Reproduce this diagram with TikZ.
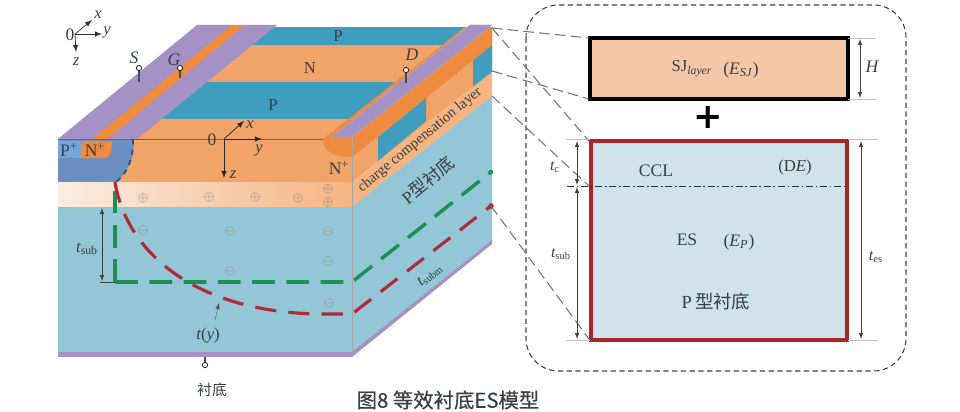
\documentclass[tikz,border=0pt]{standalone}
\usepackage{fontspec}
\setmainfont{Liberation Serif}
\newfontfamily\cjk{Noto Sans CJK SC}
\newfontfamily\cjkbold[FakeBold=0.5]{Noto Sans CJK SC}
\newfontfamily\plusfont{DejaVu Sans}
\usetikzlibrary{positioning}
\definecolor{tealP}{HTML}{3F9DBE}
\definecolor{orangeN}{HTML}{F2A468}
\definecolor{orangeD}{HTML}{EE8B3E}
\definecolor{layerO}{HTML}{F5B482}
\definecolor{layerL}{HTML}{FBEDE0}
\definecolor{subB}{HTML}{93C6D6}
\definecolor{metalP}{HTML}{A491C6}
\definecolor{wellB}{HTML}{6C8FC2}
\definecolor{wellD}{HTML}{2F4C7F}
\definecolor{plusB}{HTML}{74A6DC}
\definecolor{curveR}{HTML}{B02A3A}
\definecolor{curveG}{HTML}{1E8F55}
\definecolor{boxO}{HTML}{F5C7A6}
\definecolor{boxB}{HTML}{CFE3EB}
\definecolor{boxR}{HTML}{A8262C}
\definecolor{inkD}{HTML}{3A3F45}
\tikzset{
  lbl/.style={font=\fontsize{8.5}{10}\selectfont,text=inkD,inner sep=0pt},
  cjklbl/.style={font=\fontsize{8.5}{10}\selectfont\cjk,text=inkD,inner sep=0pt},
  dimline/.style={black!75,very thin,latex-latex,>=latex},
  extline/.style={black!25,very thin},
  lead/.style={black!55,semithick,dash pattern=on 6pt off 3pt},
  pin/.style={circle,draw=black!85,fill=white,line width=0.5pt,inner sep=0pt,minimum size=3pt},
}
\begin{document}
\begin{tikzpicture}[x=0.02cm,y=-0.02cm]
\useasboundingbox (0,0) rectangle (960,412);
\begin{scope}
\clip (58,139) -- (198,27) -- (492,27) -- (352,139) -- cycle;
\draw[fill=tealP,draw=none] (58,27) rectangle (492,45);
\draw[fill=orangeN,draw=none] (58,45) rectangle (492,82);
\draw[fill=tealP,draw=none] (58,82) rectangle (492,119);
\draw[fill=orangeN,draw=none] (58,119) rectangle (492,139);
\end{scope}
\draw[fill=metalP,draw=none] (197,25) -- (232,25) -- (92,139) -- (58,139) -- cycle;
\draw[fill=orangeD,draw=none] (232,25) -- (245,25) -- (108,139) -- (92,139) -- cycle;
\draw[fill=metalP,draw=none] (245,25) -- (277,25) -- (137,139) -- (108,139) -- cycle;
\draw[fill=orangeN,draw=none] (58,139) rectangle (352,182);
\draw[fill=wellB,draw=none] (58,139) -- (134,139) .. controls (134,160) and (128,172) .. (116,182) -- (58,182) -- cycle;
\draw[fill=plusB,draw=none] (58,141) rectangle (82,158);
\draw[fill=orangeD,draw=none] (83,141) -- (112,141) -- (111,153) .. controls (110,156) and (108,158) .. (104,158) -- (80,158) -- cycle;
\draw[black!60,very thin] (58,139) -- (352,139);
\draw[wellD,line width=1pt,dashed] (133,139) .. controls (133,160) and (128,172) .. (116,182);
\shade[left color=layerL,right color=layerO] (58,182) rectangle (352,207);
\draw[fill=subB,draw=none] (58,207) rectangle (352,352);
\draw[fill=metalP,draw=none] (58,352) rectangle (352,357);
% side face
\draw[fill=orangeN,draw=none] (352,139) -- (492,27) -- (492,72) -- (352,182) -- cycle;
\draw[fill=tealP,draw=none] (378,137) -- (426,98) -- (426,121) -- (378,161) -- cycle;
\draw[fill=tealP,draw=none] (473,60) -- (492,45) -- (492,72) -- (473,87) -- cycle;
\draw[fill=orangeD,draw=none] (352,139) -- (492,27) -- (492,45) -- (352,157) -- cycle;
\draw[fill=layerO,draw=none] (352,182) -- (492,72) -- (492,96) -- (352,207) -- cycle;
\draw[fill=subB,draw=none] (352,207) -- (492,96) -- (492,240) -- (352,352) -- cycle;
\draw[fill=metalP,draw=none] (352,352) -- (492,240) -- (492,244) -- (352,357) -- cycle;
\draw[black!35,very thin] (352,139) -- (352,352);
% drain
\draw[fill=orangeD,draw=none] (323,139) -- (465,27) -- (492,27) -- (352,139) -- (352,157) .. controls (336,157) and (324,154) .. (323,139) -- cycle;
\draw[fill=metalP,draw=black!30,very thin] (332,137) -- (470,25) -- (492,25) -- (352,137) -- cycle;
% charges
\foreach \cx/\cy in {143/198,209/197,255/197,298/198,328/189,328/202}
  \node[text=black!45,inner sep=0pt,font=\scriptsize] at (\cx,\cy) {$\oplus$};
\foreach \cx/\cy in {143/230,230/231,230/271,328/231,328/261,329/303}
  \node[text=black!45,inner sep=0pt,font=\scriptsize] at (\cx,\cy) {$\ominus$};
% depletion edges
\coordinate (greenEnd) at (491,172);
\coordinate (redEnd) at (491,206);
\draw[curveG,line width=2pt,dash pattern=on 13pt off 6.5pt] (115,282) -- (352,282) -- (greenEnd);
\draw[curveG,line width=2pt,dash pattern=on 13pt off 6.5pt] (115,282) -- (115,182);
\draw[curveR,line width=1.8pt,dash pattern=on 12pt off 7pt] (115,182) .. controls (125,245) and (185,310) .. (315,314) -- (352,314) -- (redEnd);
\fill[curveG] (greenEnd) circle (1.3pt);
\fill[curveR] (redEnd) circle (1.6pt);
\draw[black!75,very thin] (100,282) -- (115,282);
\draw[dimline] (102,208) -- (102,281);
\node[lbl,font=\fontsize{9.5}{10}\selectfont\itshape] at (87,249) {t\textsubscript{\upshape sub}};
\draw[-latex,black!70,very thin] (215,320) -- (219,303);
\node[lbl,font=\fontsize{9.5}{10}\selectfont] at (208,336) {\textit{t}(\textit{y})};
\node[lbl,rotate=39,font=\fontsize{9}{10}\selectfont\itshape] at (430,275) {t\textsubscript{\upshape subm}};
% terminals
\node[pin] (pinS) at (139,68) {};
\coordinate (pinSe) at (139,82);
\draw[black!70,semithick] (pinS) -- (pinSe);
\node[pin] (pinG) at (180,68) {};
\coordinate (pinGe) at (180,78);
\draw[black!70,semithick] (pinG) -- (pinGe);
\node[pin] (pinD) at (406,70) {};
\coordinate (pinDe) at (406,83);
\draw[black!70,semithick] (pinD) -- (pinDe);
\node[pin] (pinSub) at (205,365) {};
\coordinate (pinSube) at (205,357);
\draw[black!70,semithick] (pinSub) -- (pinSube);
\node[lbl,font=\fontsize{10}{10}\selectfont] at (134,58) {\textit{S}};
\node[lbl,font=\fontsize{10}{10}\selectfont] at (174,60) {\textit{G}};
\node[lbl,font=\fontsize{10}{10}\selectfont] at (412,55) {\textit{D}};
\node[cjklbl] at (212,390) {衬底};
% axes
\coordinate (axisA) at (75,34);
\coordinate (axisAx) at (92,20);
\coordinate (axisAy) at (102,34);
\coordinate (axisAz) at (76,52);
\draw[-latex,black!80] (axisA) -- (axisAx);
\draw[-latex,black!80] (axisA) -- (axisAy);
\draw[-latex,black!80] (axisA) -- (axisAz);
\node[lbl,font=\fontsize{10}{10}\selectfont] at (70,35) {0};
\node[lbl,font=\fontsize{9.5}{10}\selectfont\itshape] at (98,15) {x};
\node[lbl,font=\fontsize{9.5}{10}\selectfont\itshape] at (107,32) {y};
\node[lbl,font=\fontsize{9.5}{10}\selectfont\itshape] at (76,62) {z};
\coordinate (axisB) at (224,139);
\coordinate (axisBx) at (244,121);
\coordinate (axisBy) at (262,139);
\coordinate (axisBz) at (224,178);
\draw[-latex,black!85] (axisB) -- (axisBx);
\draw[-latex,black!85] (axisB) -- (axisBy);
\draw[-latex,black!85] (axisB) -- (axisBz);
\node[lbl,font=\fontsize{10}{10}\selectfont] at (212,140) {0};
\node[lbl,font=\fontsize{9.5}{10}\selectfont\itshape] at (250,125) {x};
\node[lbl,font=\fontsize{9.5}{10}\selectfont\itshape] at (259,150) {y};
\node[lbl,font=\fontsize{9.5}{10}\selectfont\itshape] at (233,175) {z};
% device labels
\node[lbl,font=\fontsize{10}{10}\selectfont] at (69,150) {P\textsuperscript{+}};
\node[lbl,font=\fontsize{10}{10}\selectfont] at (95,150) {N\textsuperscript{+}};
\node[lbl,font=\fontsize{9.5}{10}\selectfont] at (338,36) {P};
\node[lbl,font=\fontsize{9.5}{10}\selectfont] at (310,68) {N};
\node[lbl,font=\fontsize{9.5}{10}\selectfont] at (273,105) {P};
\node[lbl,font=\fontsize{10}{10}\selectfont] at (339,168) {N\textsuperscript{+}};
\node[lbl,rotate=39.5,font=\fontsize{8.3}{10}\selectfont] at (420,140) {charge compensation layer};
\node[cjklbl,rotate=39.5,font=\fontsize{10}{10}\selectfont\cjk] at (428,180) {{\fontspec{Liberation Serif}P}型衬底};
% inset
\draw[black!75,semithick,dash pattern=on 3pt off 2pt,rounded corners=0.65cm] (526,5) rectangle (906,371);
\draw[fill=boxO,draw=black,line width=2pt] (590,38) rectangle (848,99);
\draw[fill=boxB,draw=boxR,line width=2.3pt] (591,141) rectangle (847,340);
\coordinate (sjTop) at (589,38);
\coordinate (sjBot) at (589,99);
\coordinate (esTop) at (589,141);
\coordinate (esMid) at (589,186);
\coordinate (esBot) at (589,339);
\coordinate (metalCorner) at (492,28);
\coordinate (layerTop) at (492,71);
\coordinate (layerBot) at (492,96);
\draw[lead] (metalCorner) -- (sjTop);
\draw[lead] (layerTop) -- (sjBot);
\draw[lead] (metalCorner) -- (esTop);
\draw[lead] (layerBot) -- (esMid);
\draw[lead] (redEnd) -- (esBot);
\draw[black!80,very thin,dash pattern=on 4pt off 1.5pt on 1pt off 1.5pt] (567,186) -- (848,186);
\draw[extline] (848,38) -- (876,38);
\draw[extline] (848,99) -- (876,99);
\draw[extline] (566,139) -- (590,139);
\draw[extline] (566,340) -- (590,340);
\draw[extline] (848,139) -- (878,139);
\draw[extline] (848,340) -- (878,340);
\draw[dimline] (860,39) -- (860,98);
\draw[dimline] (577,141) -- (577,185);
\draw[dimline] (577,187) -- (577,339);
\draw[dimline] (861,141) -- (861,339);
\node[lbl,font=\fontsize{10}{10}\selectfont\itshape] at (872,67) {H};
\node[lbl,font=\fontsize{9}{10}\selectfont\itshape] at (555,167) {t\textsubscript{\upshape c}};
\node[lbl,font=\fontsize{9}{10}\selectfont\itshape] at (561,254) {t\textsubscript{\upshape sub}};
\node[lbl,font=\fontsize{9}{10}\selectfont\itshape] at (876,257) {t\textsubscript{\upshape es}};
\node[lbl,font=\fontsize{9.5}{10}\selectfont] at (692,69) {SJ\textsubscript{\textit{layer}}};
\node[lbl,font=\fontsize{10}{10}\selectfont] at (741,70) {(\textit{E}\textsubscript{\textit{SJ}})};
\node[lbl,font=\fontsize{10}{10}\selectfont] at (656,171) {CCL};
\node[lbl,font=\fontsize{9.5}{10}\selectfont] at (795,167) {(D\textit{E})};
\node[lbl,font=\fontsize{10}{10}\selectfont] at (687,240) {ES};
\node[lbl,font=\fontsize{10}{10}\selectfont] at (739,242) {(\textit{E}\textsubscript{\textit{P}})};
\node[cjklbl,font=\fontsize{10.5}{10}\selectfont\cjk] at (716,301) {{\fontspec{Liberation Serif}P}\,型衬底};
\node[inner sep=0pt,font=\fontsize{20}{20}\selectfont\plusfont\bfseries] at (708,117) {+};
\node[cjklbl,font=\fontsize{11.6}{12}\selectfont\cjkbold] at (448,400) {图8\ 等效衬底ES模型};
\end{tikzpicture}
\end{document}
